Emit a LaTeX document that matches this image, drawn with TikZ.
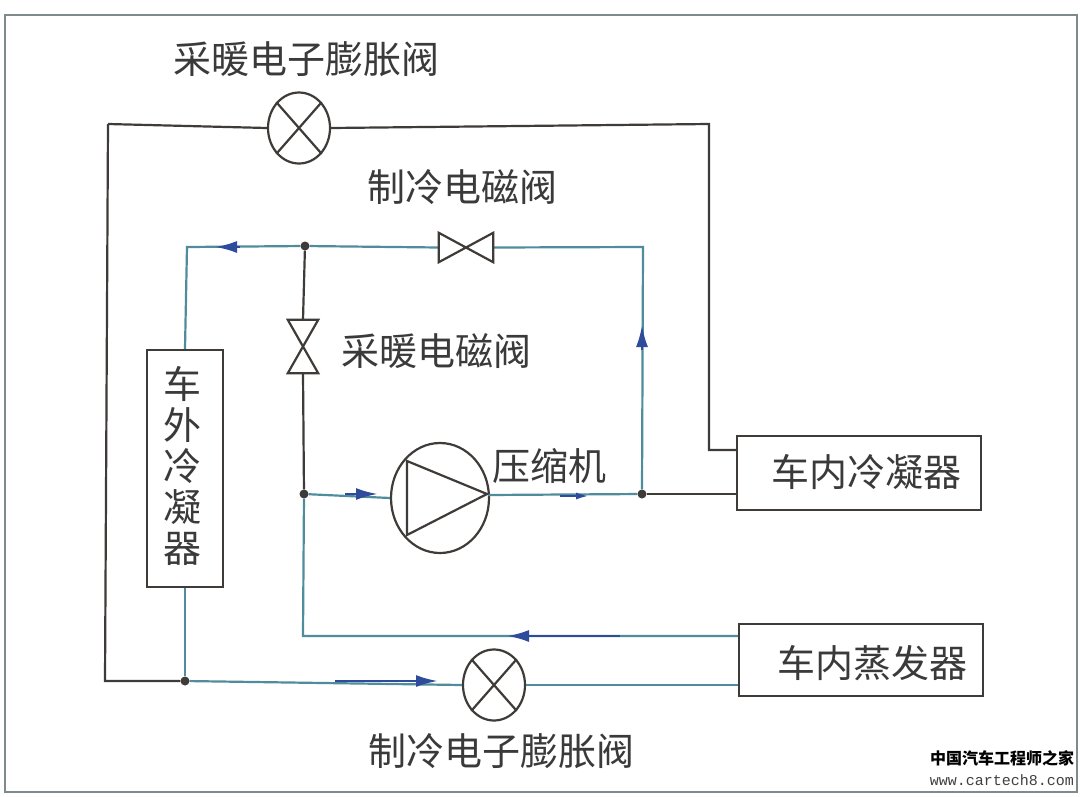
\documentclass[tikz,border=0pt]{standalone}
\usepackage{fontspec}
\usetikzlibrary{shapes.geometric,arrows.meta}
\newfontfamily\cjk{Noto Sans CJK SC}
\newfontfamily\urlf{Liberation Mono}
\definecolor{dk}{HTML}{3F3B38}
\definecolor{tl}{HTML}{4F8C9C}
\definecolor{bl}{HTML}{2F4C9C}
\definecolor{frm}{HTML}{7F8A8C}
\definecolor{txt}{HTML}{3A3A3A}
\tikzset{
  x=1pt,y=-1pt,
  lab/.style={font=\cjk\fontsize{38}{41}\selectfont,text=txt,inner sep=0pt,align=center},
  dkl/.style={draw=dk,line width=2.2pt,line join=miter},
  tll/.style={draw=tl,line width=2.2pt,line join=miter},
  sym/.style={draw=dk,line width=2.2pt,line join=miter},
  boxn/.style={draw=dk,line width=2.2pt,fill=white,inner sep=0pt,rectangle},
  exv/.style={ellipse,sym,fill=white,inner sep=0pt,minimum width=62pt,minimum height=71pt},
  bow/.style={inner sep=0pt,rectangle},
  dotn/.style={circle,fill=dk,inner sep=0pt,minimum size=9pt},
  flow/.style={draw=bl,line width=2.6pt,-{Latex[length=22pt,width=12pt]}},
  flows/.style={draw=bl,line width=2.6pt,-{Latex[length=14pt,width=7pt]}},
}
\begin{document}
\begin{tikzpicture}
\useasboundingbox (0,0) rectangle (1080,796);
\fill[white] (0,0) rectangle (1080,796);
\draw[frm,line width=2pt] (5,15) rectangle (1077,792);

% nodes
\node[exv] (heatv) at (299,128) {};
\node[exv] (coolv) at (494,685) {};
\node[bow,minimum width=54pt,minimum height=29pt] (coolsv) at (466,247.5) {};
\node[bow,minimum width=30pt,minimum height=53pt] (heatsv) at (303,346.5) {};
\node[ellipse,sym,fill=white,inner sep=0pt,minimum width=98pt,minimum height=110pt] (comp) at (440,498) {};
\node[boxn,minimum width=76pt,minimum height=237pt] (ocond) at (185,468.5) {};
\node[boxn,minimum width=244pt,minimum height=74pt] (icond) at (859,473) {};
\node[boxn,minimum width=244pt,minimum height=72pt] (ievap) at (861,660) {};
\node[dotn] (j1) at (305,246) {};
\node[dotn] (j2) at (304,494) {};
\node[dotn] (j3) at (642,494) {};
\node[dotn] (j4) at (185,681) {};
\coordinate (tl1) at (108,124);
\coordinate (bl1) at (105,681);
\coordinate (tr1) at (709,124);
\coordinate (tr2) at (709,450);
\coordinate (o1) at (187,247);
\coordinate (c1) at (643,247);
\coordinate (e1) at (303,636);
\coordinate (out) at (488,495);
\coordinate (a1) at (240,247);
\coordinate (a1e) at (215,247);
\coordinate (a2) at (642,350);
\coordinate (a2e) at (642,325);
\coordinate (a3) at (345,494);
\coordinate (a3e) at (378,494);
\coordinate (a4) at (335,681);
\coordinate (a4e) at (438,681);
\coordinate (a5) at (620,636);
\coordinate (a5e) at (507,636);
\coordinate (a6) at (560,496);
\coordinate (a6e) at (590,496);

% connectors
\draw[dkl] (tl1) -- (heatv.west);
\draw[dkl] (heatv.east) -- (tr1) -- (tr2) -- (icond.west |- tr2);
\draw[dkl] (tl1) -- (bl1) -- (j4);
\draw[tll] (j4) -- (coolv.west);
\draw[tll] (coolv.east) -- (ievap.west |- coolv.east);
\draw[tll] (ocond.south) -- (j4);
\draw[tll] (ocond.north) -- (o1) -- (j1) -- (coolsv.west);
\draw[tll] (coolsv.east) -- (c1) -- (j3);
\draw[dkl] (j1) -- (heatsv.north);
\draw[dkl] (heatsv.south) -- (j2);
\draw[tll] (j2) -- (comp.west);
\draw[tll] (out) -- (j3);
\draw[dkl] (j3) -- (icond.west |- j3);
\draw[tll] (j2) -- (e1) -- (ievap.west |- e1);

% flow arrows
\draw[flow] (a1) -- (a1e);
\draw[flow] (a2) -- (a2e);
\draw[flow] (a3) -- (a3e);
\draw[flow] (a4) -- (a4e);
\draw[flow] (a5) -- (a5e);
\draw[flows] (a6) -- (a6e);

% symbols
\draw[sym] (heatv.north west) -- (heatv.south east) (heatv.north east) -- (heatv.south west);
\draw[sym] (coolv.north west) -- (coolv.south east) (coolv.north east) -- (coolv.south west);
\draw[sym] (coolsv.north west) -- (coolsv.south east) -- (coolsv.north east) -- (coolsv.south west) -- cycle;
\draw[sym] (heatsv.north west) -- (heatsv.north east) -- (heatsv.south west) -- (heatsv.south east) -- cycle;
\draw[sym] (407,461) -- (487,494) -- (407,535) -- cycle;

% labels
\node[lab] (t1) at (306,59) {采暖电子膨胀阀};
\node[lab] (t2) at (462,187) {制冷电磁阀};
\node[lab] (t3) at (436,351) {采暖电磁阀};
\node[lab] (t4) at (549,466) {压缩机};
\node[lab] (t5) at (866,472) {车内冷凝器};
\node[lab] (t6) at (872,663) {车内蒸发器};
\node[lab] (t7) at (501,751) {制冷电子膨胀阀};
\node[lab,text width=44pt] (t8) at (182,466) {车\\外\\冷\\凝\\器};
\node[font=\cjk\bfseries\fontsize{16}{16}\selectfont,text=black,inner sep=0pt] (w1) at (1002,758) {中国汽车工程师之家};
\node[font=\urlf\fontsize{15}{15}\selectfont,text=black!75,inner sep=0pt] (w2) at (1002,780) {www.cartech8.com};
\end{tikzpicture}
\end{document}
